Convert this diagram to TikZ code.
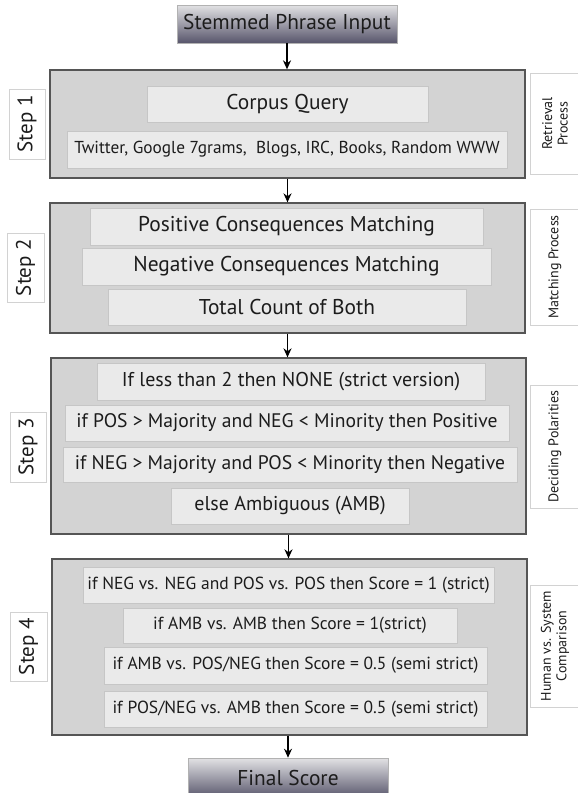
\documentclass[tikz,border=0pt]{standalone}
\usepackage{fontspec}
\setmainfont{PT Sans}
\usetikzlibrary{arrows.meta}
\definecolor{bigfill}{HTML}{D3D3D3}
\definecolor{bigline}{HTML}{555555}
\definecolor{infill}{HTML}{EAEAEA}
\definecolor{inline}{HTML}{C6C6C6}
\definecolor{lblline}{HTML}{D2D2D2}
\definecolor{txt}{HTML}{1C1C1C}
\definecolor{gtop}{HTML}{E2E2E4}
\definecolor{gbot}{HTML}{57556B}
\newcommand{\fs}[1]{\fontsize{#1}{#1}\selectfont}
\tikzset{
  bigbox/.style={draw=bigline, line width=1.3pt, fill=bigfill, inner sep=0pt},
  inbox/.style={draw=inline, line width=0.8pt, fill=infill, inner sep=0pt, text=txt},
  lblbox/.style={draw=lblline, line width=0.8pt, fill=white, inner sep=0pt, text=txt, rotate=90, align=center},
  gradbox/.style={draw=gray!60, line width=0.6pt, top color=gtop, bottom color=gbot, inner sep=0pt, text=txt},
  arr/.style={line width=1.5pt, -{Stealth[length=9pt,width=8pt]}},
  sidefont/.style={font=\fontsize{14}{15.5}\selectfont},
}
\begin{document}
\begin{tikzpicture}[x=1pt,y=-1pt]
\useasboundingbox (0,0) rectangle (578,793);
% top
\node[gradbox, minimum width=220pt, minimum height=38pt] (top) at (287,24) {\fs{21.4}Stemmed Phrase Input};
% step 1
\node[bigbox, minimum width=475pt, minimum height=108pt] (s1) at (287.5,124) {};
\node[inbox, minimum width=281pt, minimum height=36pt] (cq) at (287.5,104) {\fs{21.4}Corpus Query};
\node[inbox, minimum width=440pt, minimum height=37pt] (tw) at (287,149.5) {\fs{17.3}Twitter, Google 7grams,\ \ Blogs, IRC, Books, Random WWW};
\node[lblbox, minimum width=70pt, minimum height=36pt] (l1) at (27,124) {\fs{21}Step 1};
\node[lblbox, sidefont, minimum width=101pt, minimum height=50pt] (r1) at (555,123.5) {Retrieval\\Process};
% step 2
\node[bigbox, minimum width=475pt, minimum height=130pt] (s2) at (287.5,268) {};
\node[inbox, minimum width=393pt, minimum height=37pt] (pos) at (286.5,226.5) {\fs{21.4}Positive Consequences Matching};
\node[inbox, minimum width=409pt, minimum height=37pt] (neg) at (286.5,266.5) {\fs{21.4}Negative Consequences Matching};
\node[inbox, minimum width=358pt, minimum height=36pt] (tot) at (287,307) {\fs{21.4}Total Count of Both};
\node[lblbox, minimum width=69pt, minimum height=37pt] (l2) at (25.5,267.5) {\fs{21}Step 2};
\node[lblbox, sidefont, minimum width=116pt, minimum height=50pt] (r2) at (555,267) {Matching Process};
% step 3
\node[bigbox, minimum width=475pt, minimum height=176pt] (s3) at (288.5,446) {};
\node[inbox, minimum width=388pt, minimum height=37pt] (less) at (291,381.5) {\fs{20}If less than 2 then NONE (strict version)};
\node[inbox, minimum width=444pt, minimum height=36pt] (p3) at (287,423) {\fs{19.6}if POS > Majority and NEG < Minority then Positive};
\node[inbox, minimum width=454pt, minimum height=35pt] (n3) at (290,464.5) {\fs{19.6}if NEG > Majority and POS < Minority then Negative};
\node[inbox, minimum width=238pt, minimum height=36pt] (amb) at (290,506) {\fs{20}else Ambiguous (AMB)};
\node[lblbox, minimum width=70pt, minimum height=36pt] (l3) at (28,447) {\fs{21}Step 3};
\node[lblbox, sidefont, minimum width=123pt, minimum height=50pt] (r3) at (555,446.5) {Deciding Polarities};
% step 4
\node[bigbox, minimum width=475pt, minimum height=176pt] (s4) at (289.5,647) {};
\node[inbox, minimum width=411pt, minimum height=36pt] (b1) at (288.5,585) {\fs{17.5}if NEG vs. NEG and POS vs. POS then Score = 1 (strict)};
\node[inbox, minimum width=334pt, minimum height=35pt] (b2) at (290,625.5) {\fs{17.5}if AMB vs. AMB then Score = 1(strict)};
\node[inbox, minimum width=383pt, minimum height=37pt] (b3) at (295.5,665.5) {\fs{17.5}if AMB vs. POS/NEG then Score = 0.5 (semi strict)};
\node[inbox, minimum width=383pt, minimum height=36pt] (b4) at (295.5,709) {\fs{17.5}if POS/NEG vs. AMB then Score = 0.5 (semi strict)};
\node[lblbox, minimum width=69pt, minimum height=37pt] (l4) at (28.5,646.5) {\fs{21}Step 4};
\node[lblbox, sidefont, minimum width=122pt, minimum height=50pt] (r4) at (555,646) {Human vs. System\\Comparison};
% final
\node[gradbox, minimum width=200pt, minimum height=40pt] (fin) at (288,778) {\fs{21.4}Final Score};
% arrows
\draw[arr] (top.south) -- (top.south |- s1.north);
\draw[arr] (s1.south) -- (s1.south |- s2.north);
\draw[arr] (s2.south) -- (s2.south |- s3.north);
\draw[arr] (s3.south) -- (s3.south |- s4.north);
\draw[arr] (s4.south -| fin.north) -- (fin.north);
\end{tikzpicture}
\end{document}
